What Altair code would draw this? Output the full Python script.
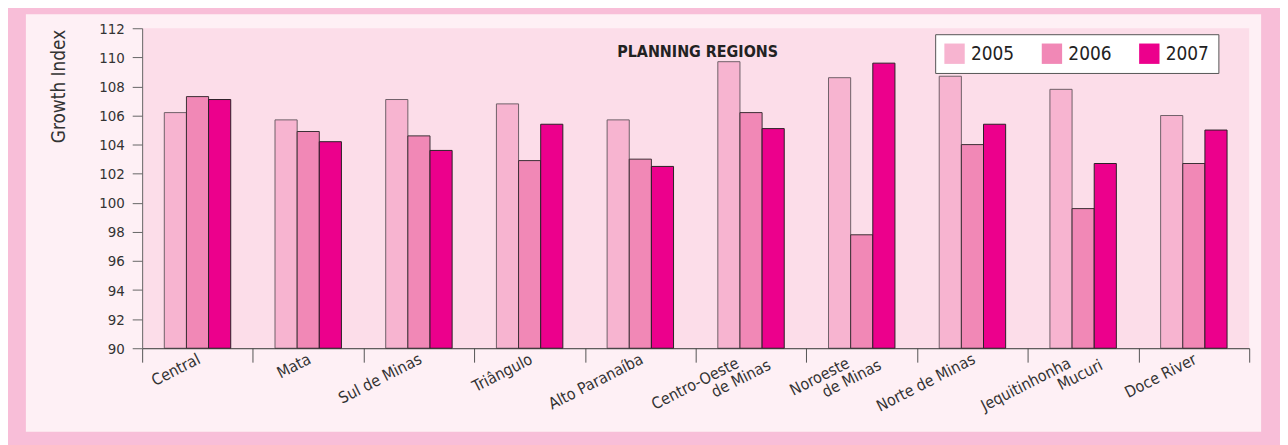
import altair as alt
import pandas as pd

regions = ["Central", "Mata", "Sul de Minas", "Triângulo", "Alto Paranaíba",
           "Centro-Oeste de Minas", "Noroeste de Minas", "Norte de Minas",
           "Jequitinhonha Mucuri", "Doce River"]
label_line1 = ["Central", "Mata", "Sul de Minas", "Triângulo", "Alto Paranaíba",
               "Centro-Oeste", "Noroeste", "Norte de Minas", "Jequitinhonha", "Doce River"]
label_line2 = ["", "", "", "", "", "de Minas", "de Minas", "", "Mucuri", ""]
years = ["2005", "2006", "2007"]
v2005 = [106.2, 105.7, 107.1, 106.8, 105.7, 109.7, 108.6, 108.7, 107.8, 106.0]
v2006 = [107.3, 104.9, 104.6, 102.9, 103.0, 106.2, 97.8, 104.0, 99.6, 102.7]
v2007 = [107.1, 104.2, 103.6, 105.4, 102.5, 105.1, 109.6, 105.4, 102.7, 105.0]
y_ticks = list(range(90, 113, 2))
chart_title = "PLANNING REGIONS"
y_title = "Growth Index"

fill_colors = ["#f7b4d0", "#f188b6", "#ec008c"]
stroke_colors = ["#6f6068", "#3b2e34", "#2b2026"]
FONT = "DejaVu Sans Condensed, sans-serif"
W, H = 1114, 322

rows = []
for vals, yr in zip([v2005, v2006, v2007], years):
    for r, v in zip(regions, vals):
        rows.append({"region": r, "year": yr, "value": v})
df = pd.DataFrame(rows)

labels_df = pd.DataFrame({"region": regions, "l1": label_line1, "l2": label_line2})
one = pd.DataFrame({"t": [chart_title]})

panel = alt.Chart(one).mark_rect(fill="#fef0f5").encode(
    x=alt.value(-117), x2=alt.value(W + 12), y=alt.value(-14), y2=alt.value(H + 84)
)
plotbg = alt.Chart(one).mark_rect(fill="#fcdde9").encode(
    x=alt.value(0), x2=alt.value(W), y=alt.value(0), y2=alt.value(H)
)

xscale = alt.Scale(paddingInner=0, paddingOuter=0)
x_axis = alt.Axis(title=None, tickSize=14, tickBand="extent", labels=False,
                  domainColor="#333333", tickColor="#555555", zindex=1)

bars = alt.Chart(df).mark_bar(strokeWidth=1).encode(
    x=alt.X("region:N", sort=regions, scale=xscale, axis=x_axis),
    xOffset=alt.XOffset("year:N", sort=years,
                        scale=alt.Scale(paddingInner=0, paddingOuter=1)),
    y=alt.Y("value:Q", scale=alt.Scale(domain=[90, 112], nice=False, zero=False),
            axis=alt.Axis(values=y_ticks, grid=False, tickSize=10, labelPadding=8,
                          labelFontSize=15, labelColor="#333333", labelFont=FONT,
                          domainColor="#666666", tickColor="#666666",
                          title=y_title, titleFont=FONT, titleFontSize=19,
                          titleFontWeight="normal", titleColor="#333333",
                          titleAngle=270, titleX=-84, titleY=1,
                          titleAlign="right", titleBaseline="middle", zindex=1)),
    y2=alt.datum(90),
    fill=alt.Fill("year:N", sort=years,
                  scale=alt.Scale(domain=years, range=fill_colors),
                  legend=alt.Legend(title=None, orient="none", legendX=798, legendY=6,
                                    direction="horizontal", columns=3,
                                    symbolType="square", symbolSize=420,
                                    symbolStrokeWidth=0, symbolOpacity=1,
                                    labelFontSize=19, labelFont=FONT, labelColor="#222222",
                                    labelOffset=6, columnPadding=27, padding=9,
                                    fillColor="white", strokeColor="#555555")),
    stroke=alt.Stroke("year:N", sort=years,
                      scale=alt.Scale(domain=years, range=stroke_colors), legend=None),
)

def label_layer(field, dx, dy, flt):
    return alt.Chart(labels_df).transform_filter(flt).mark_text(
        font=FONT, fontSize=16, color="#333333", angle=333,
        align="right", baseline="top", dx=dx, dy=dy
    ).encode(
        x=alt.X("region:N", sort=regions, scale=xscale, axis=x_axis),
        y=alt.value(H),
        text=f"{field}:N",
    )

single = label_layer("l1", -3.1, 1.8, "datum.l2 == ''")
line1 = label_layer("l1", -18.3, -1.5, "datum.l2 != ''")
line2 = label_layer("l2", 9.3, 14.8, "datum.l2 != ''")

title_text = alt.Chart(one).mark_text(
    font=FONT, fontSize=16, fontWeight="bold", color="#222222",
    align="center", baseline="alphabetic"
).encode(x=alt.value(W / 2 + 2), y=alt.value(29), text="t:N")

chart = alt.layer(panel, plotbg, bars, single, line1, line2, title_text).resolve_scale(
    fill="independent", stroke="independent"
).properties(
    width=W, height=H,
    autosize=alt.AutoSizeParams(type="none"),
    padding={"left": 135, "top": 19, "right": 31, "bottom": 96},
    background="#f8bed8",
).configure_view(stroke=None, fill=None)

chart.save("out.html", embed_options={"renderer": "svg", "actions": False})
